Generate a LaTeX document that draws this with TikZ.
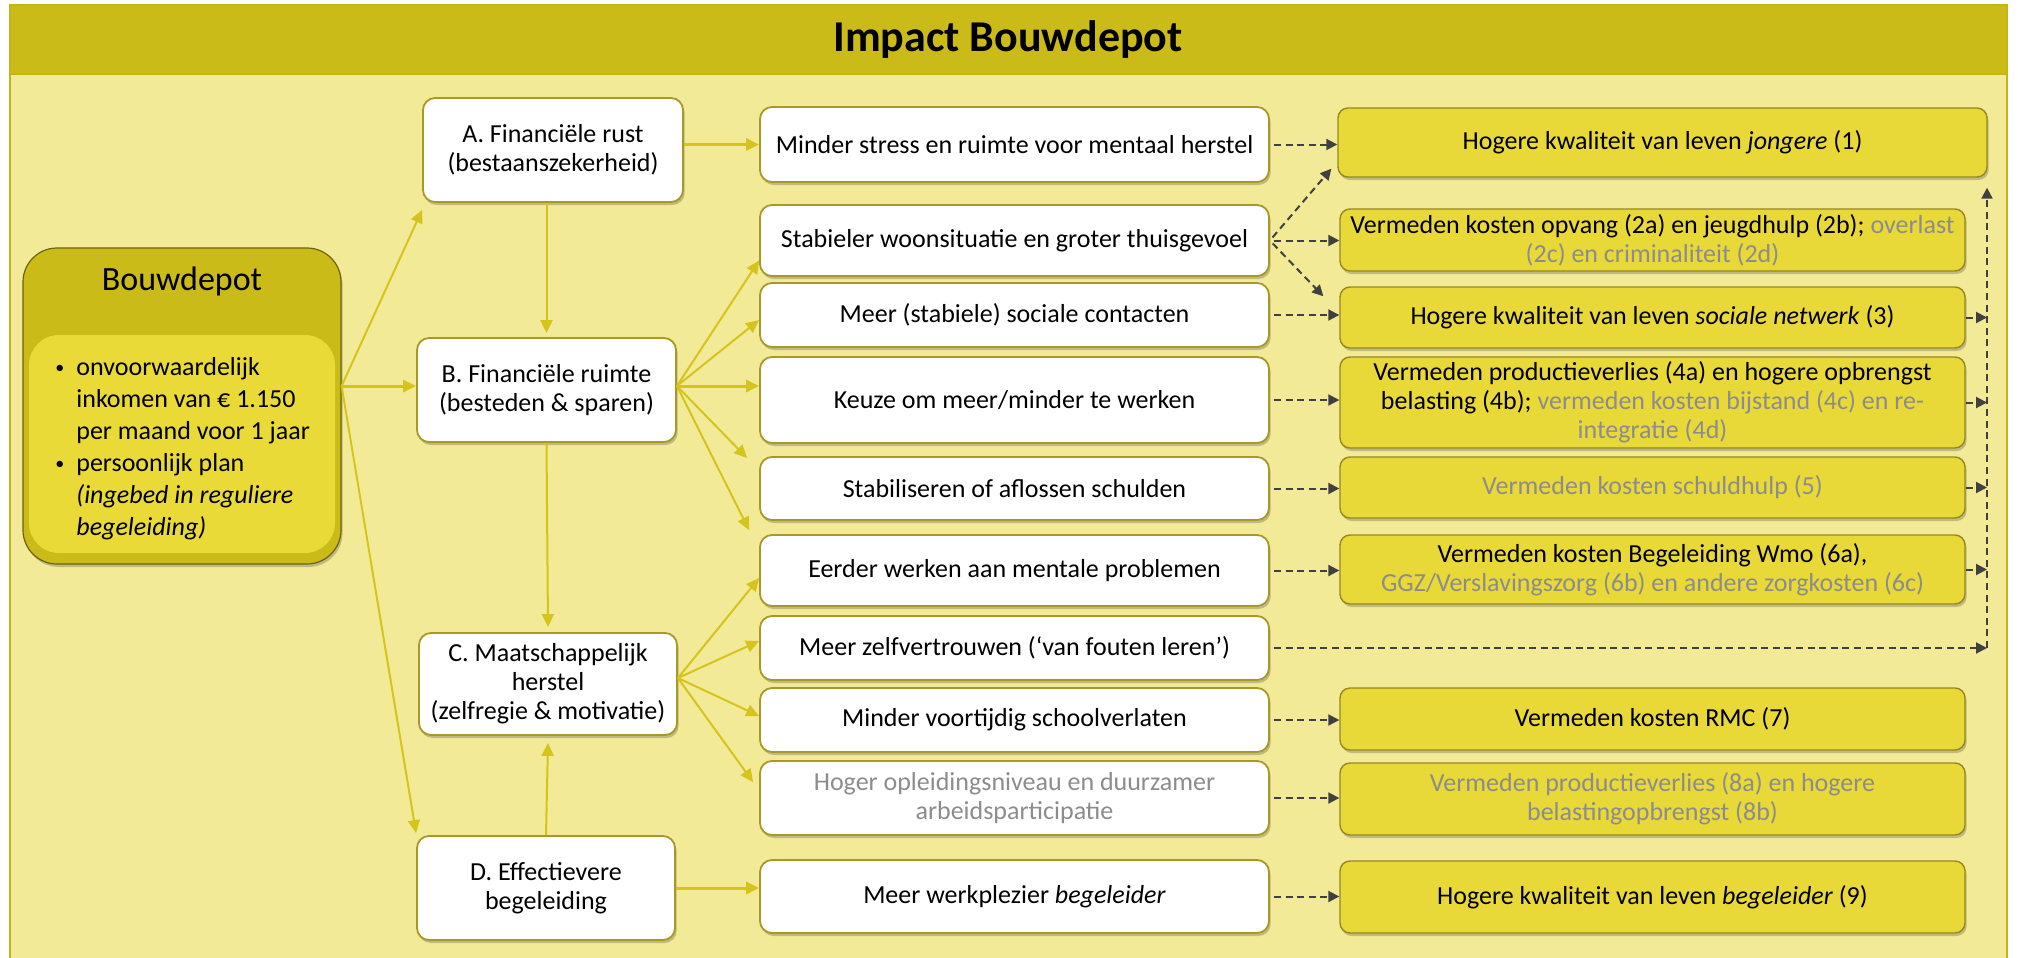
\documentclass[tikz,border=0pt]{standalone}
\usepackage{fontspec}
\setmainfont{Carlito}
\usetikzlibrary{arrows.meta,shadows}

\definecolor{achtergrond}{RGB}{243,234,151}
\definecolor{band}{RGB}{203,187,24}
\definecolor{kader}{RGB}{196,180,22}
\definecolor{binnen}{RGB}{233,218,55}
\definecolor{geelvak}{RGB}{232,217,56}
\definecolor{geelrand}{RGB}{150,136,30}
\definecolor{witrand}{RGB}{168,152,40}
\definecolor{bouwrand}{RGB}{110,98,18}
\definecolor{pijlgeel}{RGB}{213,196,29}
\definecolor{donkergrijs}{RGB}{64,64,64}
\definecolor{grijstekst}{RGB}{140,140,140}

\newcommand{\grijs}[1]{\textcolor{grijstekst}{#1}}
\newcommand{\opsom}{\llap{\raisebox{1pt}{\fontsize{9}{9}\selectfont\textbullet}\hspace{6pt}}}

\begin{document}
\begin{tikzpicture}[x=0.5pt, y=-0.5pt,
  font=\fontsize{13}{14.5}\selectfont,
  schaduw/.style={drop shadow={shadow xshift=0.8pt, shadow yshift=-1.5pt, opacity=0.3, fill=black!70}},
  stap/.style={draw=witrand, line width=0.9pt, fill=white, rounded corners=6pt, align=center, inner sep=1pt, schaduw},
  effect/.style={stap, minimum width=254.5pt},
  baat/.style={draw=geelrand, line width=0.7pt, fill=geelvak, rounded corners=5pt, align=center, inner sep=1pt, minimum width=312.5pt, schaduw},
  pijl/.style={draw=pijlgeel, line width=1pt, -{Triangle[length=6.5pt,width=6pt]}},
  dikpijl/.style={pijl, line width=1.5pt},
  stip/.style={draw=donkergrijs, line width=1pt, dash pattern=on 3.5pt off 2.3pt, shorten <=2pt, -{Triangle[length=5.5pt,width=5.5pt]}}]

\useasboundingbox (0,0) rectangle (2018,958);

% Background and title
\draw [fill=achtergrond, draw=kader, line width=1pt] (10,5) rectangle (2007,975);
\draw [fill=band, draw=kader, line width=1pt] (10,5) rectangle (2007,74);
\node (titel) at (1008,40) {\fontsize{22}{26}\selectfont\bfseries Impact Bouwdepot};

% Bouwdepot
\node (bouwdepot) [draw=bouwrand, line width=0.6pt, fill=band, rounded corners=17pt, minimum width=159pt, minimum height=158pt, schaduw] at (182,406) {};
\node (bouwbinnen) [fill=binnen, rounded corners=15pt, minimum width=153pt, minimum height=109pt] at (182,444) {};
\node (bouwnaam) at (182,281) {\fontsize{17}{20}\selectfont Bouwdepot};
\node (lijst) [anchor=north west, align=left, inner sep=0pt, font=\fontsize{13}{16}\selectfont] at (76,357) {\opsom onvoorwaardelijk\\ inkomen van € 1.150\\ per maand voor 1 jaar\\ \opsom persoonlijk plan\\ \textit{(ingebed in reguliere}\\ \textit{begeleiding)}};

% Pillars
\node (rust) [stap, minimum width=130pt, minimum height=52pt] at (553,150) {A. Financiële rust\\(bestaanszekerheid)};
\node (ruimte) [stap, minimum width=129.5pt, minimum height=52pt] at (546.5,390) {B. Financiële ruimte\\(besteden \& sparen)};
\node (herstel) [stap, minimum width=129pt, minimum height=51pt] at (548,684) {C. Maatschappelijk\\herstel\\(zelfregie \& motivatie)};
\node (begel) [stap, minimum width=129pt, minimum height=52pt] at (546,888) {D. Effectievere\\begeleiding};

% Effects
\node (stress) [effect, minimum height=37.5pt] at (1014.5,144.5) {Minder stress en ruimte voor mentaal herstel};
\node (wonen) [effect, minimum height=35.5pt] at (1014.5,240.5) {Stabieler woonsituatie en groter thuisgevoel};
\node (sociaal) [effect, minimum height=32pt] at (1014.5,315) {Meer (stabiele) sociale contacten};
\node (werk) [effect, minimum height=43pt] at (1014.5,400) {Keuze om meer/minder te werken};
\node (schuld) [effect, minimum height=31.5pt] at (1014.5,488.5) {Stabiliseren of aflossen schulden};
\node (mentaal) [effect, minimum height=35.5pt] at (1014.5,570.5) {Eerder werken aan mentale problemen};
\node (zelf) [effect, minimum height=32pt] at (1014.5,648) {Meer zelfvertrouwen (‘van fouten leren’)};
\node (school) [effect, minimum height=32pt] at (1014.5,720) {Minder voortijdig schoolverlaten};
\node (opleiding) [effect, minimum height=37pt, text=grijstekst] at (1014.5,798) {Hoger opleidingsniveau en duurzamer\\arbeidsparticipatie};
\node (plezier) [effect, minimum height=36.5pt] at (1014.5,896.5) {Meer werkplezier \textit{begeleider}};

% Benefits
\node (kwal1) [baat, minimum width=324.5pt, minimum height=34.5pt] at (1662.5,142.5) {Hogere kwaliteit van leven \textit{jongere} (1)};
\node (kosten2) [baat, minimum height=31pt] at (1652.5,240) {Vermeden kosten opvang (2a) en jeugdhulp (2b); \grijs{overlast}\\\grijs{(2c) en criminaliteit (2d)}};
\node (kwal3) [baat, minimum height=30.5pt] at (1652.5,317.5) {Hogere kwaliteit van leven \textit{sociale netwerk} (3)};
\node (kosten4) [baat, minimum height=45.5pt] at (1652.5,402.5) {Vermeden productieverlies (4a) en hogere opbrengst\\belasting (4b); \grijs{vermeden kosten bijstand (4c) en re-}\\\grijs{integratie (4d)}};
\node (kosten5) [baat, minimum height=30.5pt, text=grijstekst] at (1652.5,487.5) {Vermeden kosten schuldhulp (5)};
\node (kosten6) [baat, minimum height=34.5pt] at (1652.5,569.5) {Vermeden kosten Begeleiding Wmo (6a),\\\grijs{GGZ/Verslavingszorg (6b) en andere zorgkosten (6c)}};
\node (kosten7) [baat, minimum height=31pt] at (1652.5,719) {Vermeden kosten RMC (7)};
\node (kosten8) [baat, minimum height=36pt, text=grijstekst] at (1652.5,799) {Vermeden productieverlies (8a) en hogere\\belastingopbrengst (8b)};
\node (kwal9) [baat, minimum height=36pt] at (1652.5,897) {Hogere kwaliteit van leven \textit{begeleider} (9)};

% From Bouwdepot to the pillars
\coordinate (bron) at ([yshift=10pt]bouwdepot.east);
\draw [pijl] (bron) -- ([yshift=-3.5pt]rust.south west);
\draw [dikpijl] (bron) -- (bron -| ruimte.west);
\draw [pijl] (bron) -- ([yshift=1pt]begel.north west);

% Between the pillars
\draw [pijl] (rust.south -| ruimte.north) -- ([yshift=2pt]ruimte.north);
\draw [pijl] (ruimte.south) -- ([yshift=2.5pt]herstel.north);
\draw [pijl] (begel.north) -- ([yshift=-3.5pt]herstel.south);

% Pillars to effects
\draw [dikpijl] (rust.east |- stress) -- (stress.west);
\coordinate (bwaaier) at ([yshift=2pt]ruimte.east);
\draw [pijl] (bwaaier) -- ([yshift=-10pt]wonen.west);
\draw [pijl] (bwaaier) -- ([yshift=-2.5pt]sociaal.west);
\draw [dikpijl] (bwaaier) -- (bwaaier -| werk.west);
\draw [pijl] (bwaaier) -- ([xshift=-6pt,yshift=-1pt]schuld.north west);
\draw [pijl] (bwaaier) -- ([xshift=-5pt,yshift=2pt]mentaal.north west);
\coordinate (cwaaier) at ([yshift=3pt]herstel.east);
\draw [pijl] (cwaaier) -- ([yshift=-3.75pt]mentaal.west);
\draw [pijl] (cwaaier) -- ([yshift=3.5pt]zelf.west);
\draw [pijl] (cwaaier) -- ([yshift=2pt]school.west);
\draw [pijl] (cwaaier) -- ([xshift=-3pt,yshift=-11pt]opleiding.north west);
\draw [dikpijl] (begel.east) -- (begel.east -| plezier.west);

% Effects to benefits
\draw [stip] (stress.east) -- (stress.east -| kwal1.west);
\draw [stip] (wonen.east) -- ([xshift=-3pt,yshift=4.5pt]kwal1.south west);
\draw [stip] (wonen.east) -- (wonen.east -| kosten2.west);
\draw [stip] (wonen.east) -- ([xshift=-8pt,yshift=-5pt]kwal3.north west);
\draw [stip] (sociaal.east) -- (sociaal.east -| kwal3.west);
\draw [stip] (werk.east) -- (werk.east -| kosten4.west);
\draw [stip] (schuld.east) -- (schuld.east -| kosten5.west);
\draw [stip] (mentaal.east) -- (mentaal.east -| kosten6.west);
\draw [stip] (school.east) -- (school.east -| kosten7.west);
\draw [stip] (opleiding.east) -- (opleiding.east -| kosten8.west);
\draw [stip] (plezier.east) -- (plezier.east -| kwal9.west);

% Collecting line to (1)
\coordinate (hoek) at (1987,648);
\draw [stip] (zelf.east) -- (zelf.east -| hoek);
\draw [stip, shorten <=0pt] (hoek) -- ([yshift=-5pt]hoek |- kwal1.south);
\draw [stip, shorten <=0pt] (kwal3.east) -- (kwal3.east -| hoek);
\draw [stip, shorten <=0pt] (kosten4.east) -- (kosten4.east -| hoek);
\draw [stip, shorten <=0pt] (kosten5.east) -- (kosten5.east -| hoek);
\draw [stip, shorten <=0pt] (kosten6.east) -- (kosten6.east -| hoek);

\end{tikzpicture}
\end{document}
